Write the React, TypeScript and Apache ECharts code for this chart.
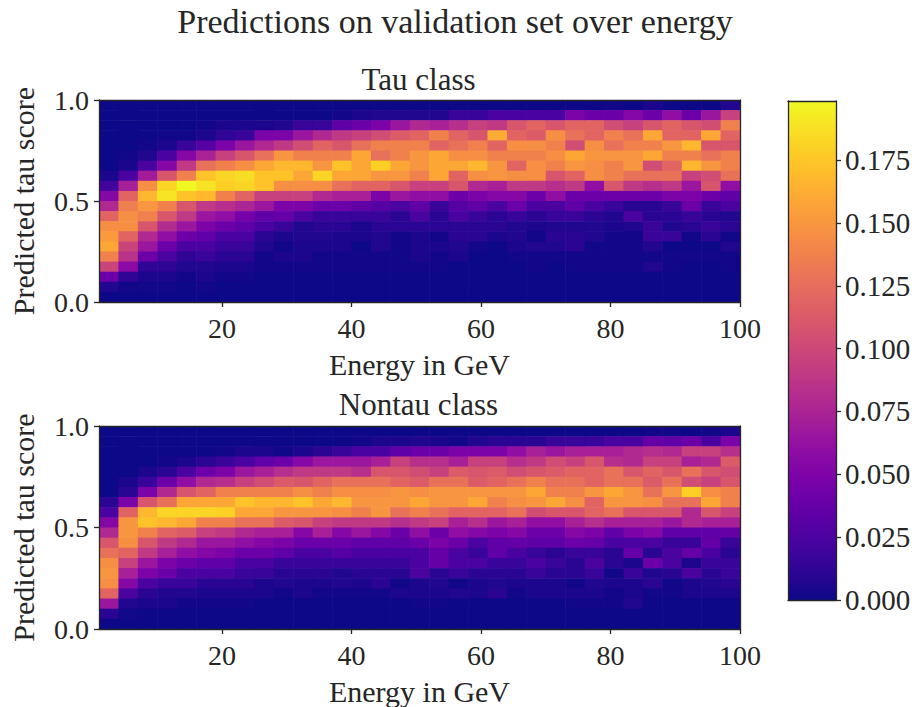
import React, { useEffect, useRef } from "react";
import * as echarts from "echarts";

// Energy bin edges (GeV) and score bin edges (top -> bottom)
const energyEdges = [1, 4, 7, 10, 13, 16, 19, 22, 25, 28, 31, 34, 37, 40, 43, 46, 49, 52, 55, 58, 61, 64, 67, 70, 73, 76, 79, 82, 85, 88, 91, 94, 97, 100];
const scoreEdges = [1.0, 0.95, 0.9, 0.85, 0.8, 0.75, 0.7, 0.65, 0.6, 0.55, 0.5, 0.45, 0.4, 0.35, 0.3, 0.25, 0.2, 0.15, 0.1, 0.05, 0.0];

const energyTicks = [20, 40, 60, 80, 100];
const scoreTicks = [0, 0.5, 1.0];
const colorbarTicks = [0, 0.025, 0.05, 0.075, 0.1, 0.125, 0.15, 0.175];
const colorbarMax = 0.1985;

// Fraction per energy bin (x 1e-3); each inner list = one energy bin, score 1.0 -> 0.0
const tauHist = [
  [0, 0, 0, 0, 0, 0, 0, 5, 20, 54, 79, 119, 145, 152, 159, 137, 97, 40, 7, 0],
  [0, 0, 0, 0, 0, 2, 5, 24, 73, 119, 135, 145, 145, 119, 97, 85, 57, 12, 2, 0],
  [0, 0, 0, 0, 2, 7, 24, 70, 145, 167, 150, 137, 109, 79, 66, 40, 12, 5, 2, 0],
  [0, 0, 0, 2, 5, 24, 54, 109, 182, 190, 137, 109, 80, 60, 40, 24, 12, 5, 2, 0],
  [0, 0, 0, 2, 16, 54, 89, 137, 198, 173, 109, 89, 66, 40, 24, 12, 7, 2, 0, 0],
  [0, 0, 2, 5, 30, 75, 127, 173, 189, 167, 89, 66, 48, 34, 24, 16, 7, 5, 2, 0],
  [0, 0, 5, 12, 48, 95, 137, 182, 179, 137, 83, 60, 40, 24, 16, 10, 5, 2, 0, 0],
  [0, 0, 5, 16, 66, 109, 145, 186, 182, 119, 76, 45, 34, 24, 16, 10, 5, 2, 0, 0],
  [0, 0, 5, 48, 79, 127, 159, 173, 173, 95, 66, 34, 24, 10, 7, 2, 2, 0, 0, 0],
  [0, 0, 7, 48, 89, 149, 167, 173, 145, 95, 48, 37, 16, 5, 2, 5, 2, 0, 0, 0],
  [0, 0, 16, 66, 103, 137, 167, 159, 145, 95, 48, 24, 7, 7, 5, 5, 2, 0, 0, 0],
  [0, 0, 16, 79, 119, 137, 149, 182, 145, 79, 40, 16, 10, 7, 5, 2, 2, 0, 0, 0],
  [0, 2, 34, 89, 109, 137, 173, 159, 127, 73, 40, 16, 10, 5, 5, 2, 2, 0, 0, 0],
  [0, 5, 40, 95, 127, 159, 159, 159, 119, 73, 34, 16, 5, 5, 0, 2, 2, 0, 0, 0],
  [0, 7, 48, 103, 137, 127, 179, 149, 119, 48, 30, 16, 10, 7, 7, 2, 2, 0, 0, 0],
  [0, 7, 66, 113, 137, 137, 159, 149, 109, 66, 24, 10, 10, 2, 2, 2, 2, 0, 0, 0],
  [0, 7, 79, 119, 137, 149, 149, 137, 95, 60, 34, 24, 10, 5, 5, 5, 2, 0, 0, 0],
  [0, 7, 73, 137, 119, 159, 159, 159, 95, 60, 16, 10, 10, 2, 5, 2, 2, 0, 0, 0],
  [0, 16, 83, 119, 127, 145, 159, 119, 109, 40, 30, 24, 10, 10, 7, 5, 0, 0, 0, 0],
  [0, 16, 95, 109, 137, 145, 167, 145, 79, 48, 34, 16, 10, 10, 2, 0, 0, 0, 0, 0],
  [0, 24, 89, 162, 119, 137, 149, 149, 73, 54, 24, 10, 10, 5, 0, 0, 0, 0, 0, 0],
  [0, 24, 109, 119, 145, 137, 119, 145, 89, 54, 40, 16, 7, 7, 5, 2, 0, 0, 0, 0],
  [0, 24, 119, 113, 145, 137, 145, 145, 89, 40, 24, 10, 5, 2, 7, 2, 2, 0, 0, 0],
  [0, 24, 109, 145, 137, 145, 137, 109, 83, 60, 24, 16, 7, 10, 7, 2, 0, 0, 0, 0],
  [0, 48, 119, 127, 103, 159, 149, 119, 89, 40, 34, 16, 7, 10, 10, 2, 2, 0, 0, 0],
  [0, 40, 119, 119, 145, 149, 145, 145, 60, 40, 24, 10, 7, 7, 2, 2, 2, 0, 0, 0],
  [2, 40, 103, 137, 127, 149, 137, 137, 109, 40, 16, 7, 5, 2, 2, 2, 2, 0, 0, 0],
  [0, 54, 95, 127, 137, 149, 149, 127, 89, 40, 10, 24, 7, 2, 2, 2, 2, 0, 0, 0],
  [5, 40, 109, 159, 137, 159, 103, 127, 83, 40, 10, 10, 16, 16, 7, 2, 7, 0, 0, 0],
  [0, 60, 119, 119, 149, 137, 119, 127, 89, 48, 16, 10, 7, 16, 0, 2, 2, 0, 0, 0],
  [0, 40, 109, 119, 167, 137, 167, 95, 66, 48, 40, 16, 10, 2, 0, 2, 0, 0, 0, 0],
  [0, 66, 103, 159, 109, 127, 149, 103, 109, 40, 16, 10, 16, 10, 0, 2, 0, 0, 0, 0],
  [7, 95, 137, 119, 109, 137, 137, 127, 60, 34, 24, 7, 10, 2, 7, 2, 2, 0, 0, 0],
];

const nontauHist = [
  [0, 0, 0, 0, 0, 0, 0, 10, 24, 54, 79, 109, 127, 145, 149, 145, 119, 66, 10, 0],
  [0, 0, 0, 0, 0, 5, 10, 48, 119, 149, 149, 145, 119, 95, 73, 54, 24, 7, 2, 0],
  [0, 0, 0, 0, 5, 16, 48, 109, 167, 173, 137, 109, 89, 66, 48, 24, 10, 5, 0, 0],
  [0, 0, 0, 2, 10, 40, 79, 127, 182, 167, 119, 89, 73, 48, 40, 16, 7, 5, 0, 0],
  [0, 0, 0, 5, 24, 60, 109, 159, 182, 159, 113, 79, 60, 40, 24, 16, 7, 2, 0, 0],
  [0, 0, 0, 10, 40, 79, 119, 159, 182, 137, 95, 66, 54, 34, 24, 10, 5, 2, 0, 0],
  [0, 0, 2, 16, 48, 83, 137, 159, 179, 137, 89, 66, 48, 34, 24, 10, 5, 2, 0, 0],
  [0, 0, 5, 24, 66, 95, 137, 173, 159, 127, 79, 60, 40, 24, 16, 10, 5, 2, 0, 0],
  [0, 0, 5, 34, 73, 103, 137, 167, 159, 127, 73, 54, 40, 24, 16, 5, 5, 0, 0, 0],
  [0, 0, 2, 40, 83, 113, 137, 167, 149, 113, 73, 48, 34, 16, 10, 7, 2, 0, 0, 0],
  [0, 0, 5, 54, 89, 109, 145, 173, 149, 109, 54, 40, 24, 16, 10, 5, 5, 0, 0, 0],
  [0, 0, 10, 66, 89, 119, 137, 159, 149, 95, 73, 40, 24, 16, 10, 5, 2, 0, 0, 0],
  [0, 0, 16, 66, 89, 127, 145, 167, 145, 89, 54, 40, 30, 16, 7, 7, 2, 0, 0, 0],
  [0, 2, 24, 66, 83, 127, 145, 149, 137, 89, 66, 34, 24, 16, 10, 5, 2, 0, 0, 0],
  [0, 5, 24, 73, 109, 127, 145, 149, 149, 89, 54, 34, 24, 16, 10, 10, 2, 0, 0, 0],
  [0, 5, 34, 95, 109, 119, 149, 149, 127, 83, 40, 34, 24, 16, 10, 2, 5, 0, 0, 0],
  [0, 7, 40, 83, 103, 113, 145, 159, 137, 89, 60, 40, 24, 24, 24, 5, 5, 2, 0, 0],
  [0, 5, 40, 83, 95, 127, 149, 149, 127, 95, 40, 48, 37, 37, 10, 7, 5, 2, 0, 0],
  [0, 2, 48, 73, 113, 127, 149, 149, 119, 73, 60, 40, 24, 24, 16, 2, 7, 0, 0, 0],
  [0, 7, 48, 95, 109, 113, 149, 159, 119, 83, 54, 24, 16, 24, 10, 5, 5, 0, 0, 0],
  [0, 10, 48, 95, 113, 119, 149, 137, 119, 66, 48, 34, 34, 16, 10, 7, 10, 0, 0, 0],
  [0, 10, 60, 83, 103, 127, 149, 145, 127, 73, 54, 37, 24, 16, 10, 5, 2, 0, 0, 0],
  [0, 10, 73, 89, 109, 137, 159, 149, 103, 60, 40, 34, 16, 24, 16, 5, 5, 0, 0, 0],
  [0, 16, 66, 103, 113, 127, 137, 159, 109, 60, 40, 34, 10, 16, 10, 5, 5, 0, 0, 0],
  [0, 16, 73, 95, 119, 127, 137, 145, 109, 73, 54, 40, 16, 10, 10, 2, 5, 2, 0, 0],
  [0, 16, 73, 109, 119, 119, 149, 119, 119, 83, 48, 37, 16, 24, 16, 7, 5, 2, 0, 0],
  [0, 24, 73, 83, 127, 127, 159, 149, 127, 73, 34, 24, 10, 10, 2, 5, 2, 2, 0, 0],
  [0, 24, 79, 79, 109, 127, 149, 149, 109, 73, 48, 24, 37, 5, 16, 5, 5, 7, 0, 0],
  [2, 37, 83, 95, 119, 113, 127, 145, 109, 73, 54, 24, 10, 40, 7, 10, 2, 0, 0, 0],
  [2, 34, 79, 95, 109, 127, 149, 127, 109, 66, 34, 16, 24, 24, 10, 2, 2, 0, 0, 0],
  [0, 40, 95, 73, 127, 103, 179, 127, 79, 79, 34, 16, 37, 5, 24, 5, 5, 0, 0, 0],
  [2, 24, 95, 79, 109, 95, 145, 159, 109, 73, 34, 37, 24, 16, 10, 7, 5, 0, 0, 0],
  [5, 48, 83, 113, 103, 109, 137, 137, 95, 73, 37, 16, 10, 16, 16, 10, 5, 0, 0, 0],
];

const plasma = [
  "#0d0887", "#2a0593", "#41049d", "#5601a4", "#6a00a8", "#7e03a8", "#8f0da4",
  "#a11b9b", "#b12a90", "#bf3984", "#cc4778", "#d7566c", "#e16462", "#ea7457",
  "#f2844b", "#f89540", "#fca636", "#feba2c", "#fcce25", "#f7e225", "#f0f921",
];

const FONT = "'Liberation Serif', 'DejaVu Serif', serif";
const INK = "#262626";

function buildCells(hist: number[][]) {
  const cells: number[][] = [];
  hist.forEach((col, i) => {
    col.forEach((v, r) => {
      cells.push([energyEdges[i], energyEdges[i + 1], scoreEdges[r + 1], scoreEdges[r], v / 1000]);
    });
  });
  return cells;
}

const cellRender = (params: any, api: any) => {
  const p0 = api.coord([api.value(0), api.value(3)]);
  const p1 = api.coord([api.value(1), api.value(2)]);
  return {
    type: "rect",
    shape: { x: p0[0], y: p0[1], width: p1[0] - p0[0] + 0.6, height: p1[1] - p0[1] + 0.6 },
    style: { fill: api.visual("color") },
  };
};

const lineStyle = { color: INK, width: 1.3 };

function frameAxis(gridIndex: number, position: string, min: number, max: number) {
  return {
    gridIndex, position, type: "value", min, max, z: 10,
    axisLine: { show: true, onZero: false, lineStyle },
    axisTick: { show: false }, axisLabel: { show: false }, splitLine: { show: false },
  };
}

function energyAxis(gridIndex: number) {
  return {
    gridIndex, position: "bottom", type: "value", min: 1, max: 100, z: 10,
    name: "Energy in GeV", nameLocation: "middle", nameGap: 47,
    nameTextStyle: { fontFamily: FONT, fontSize: 30, color: INK },
    axisLine: { show: true, onZero: false, lineStyle },
    axisTick: { show: true, length: 5, lineStyle, customValues: energyTicks },
    axisLabel: { show: true, margin: 12, fontFamily: FONT, fontSize: 28, color: INK, customValues: energyTicks },
    splitLine: { show: false },
  };
}

function scoreAxis(gridIndex: number) {
  return {
    gridIndex, position: "left", type: "value", min: 0, max: 1, interval: 0.5, z: 10,
    name: "Predicted tau score", nameLocation: "middle", nameGap: 61, nameRotate: 90,
    nameTextStyle: { fontFamily: FONT, fontSize: 30, color: INK },
    axisLine: { show: true, onZero: false, lineStyle },
    axisTick: { show: true, length: 5, lineStyle, customValues: scoreTicks },
    axisLabel: {
      show: true, margin: 10, fontFamily: FONT, fontSize: 28, color: INK, customValues: scoreTicks,
      formatter: (v: number) => v.toFixed(1),
    },
    splitLine: { show: false },
  };
}

export default function App() {
  const ref = useRef<HTMLDivElement>(null);
  useEffect(() => {
    if (!ref.current) return;
    const chart = echarts.init(ref.current, undefined, { renderer: "svg" });
    const option: any = {
      animation: false,
      backgroundColor: "#ffffff",
      grid: [
        { left: 97, top: 100, width: 643, height: 202 },
        { left: 97, top: 426, width: 643, height: 203 },
        { left: 788, top: 101, width: 48, height: 499 },
      ],
      xAxis: [
        energyAxis(0),
        frameAxis(0, "top", 1, 100),
        energyAxis(1),
        frameAxis(1, "top", 1, 100),
        frameAxis(2, "bottom", 0, 1),
        frameAxis(2, "top", 0, 1),
      ],
      yAxis: [
        scoreAxis(0),
        frameAxis(0, "right", 0, 1),
        scoreAxis(1),
        frameAxis(1, "right", 0, 1),
        frameAxis(2, "left", 0, colorbarMax),
        {
          gridIndex: 2, position: "right", type: "value", min: 0, max: colorbarMax, z: 10,
          axisLine: { show: true, onZero: false, lineStyle },
          axisTick: { show: true, length: 5, lineStyle, customValues: colorbarTicks },
          axisLabel: {
            show: true, margin: 9, fontFamily: FONT, fontSize: 29, color: INK, customValues: colorbarTicks,
            formatter: (v: number) => v.toFixed(3),
          },
          splitLine: { show: false },
        },
      ],
      visualMap: {
        type: "continuous", show: false, min: 0, max: colorbarMax, dimension: 4,
        seriesIndex: [0, 1], inRange: { color: plasma },
      },
      graphic: [
        {
          type: "text", x: 455, y: 4,
          style: { text: "Predictions on validation set over energy", fontFamily: FONT, fontSize: 34, fill: INK, align: "center", verticalAlign: "top" },
        },
        {
          type: "text", x: 418.5, y: 79,
          style: { text: "Tau class", fontFamily: FONT, fontSize: 31, fill: INK, align: "center", verticalAlign: "middle" },
        },
        {
          type: "text", x: 418.5, y: 404,
          style: { text: "Nontau class", fontFamily: FONT, fontSize: 31, fill: INK, align: "center", verticalAlign: "middle" },
        },
      ],
      series: [
        {
          type: "custom", xAxisIndex: 0, yAxisIndex: 0, clip: true, z: 2,
          encode: { x: [0, 1], y: [2, 3] }, renderItem: cellRender, data: buildCells(tauHist),
        },
        {
          type: "custom", xAxisIndex: 2, yAxisIndex: 2, clip: true, z: 2,
          encode: { x: [0, 1], y: [2, 3] }, renderItem: cellRender, data: buildCells(nontauHist),
        },
        {
          type: "custom", xAxisIndex: 4, yAxisIndex: 4, clip: true, z: 2,
          encode: { x: [0, 1], y: [2, 3] },
          renderItem: (params: any, api: any) => {
            const p0 = api.coord([api.value(0), api.value(3)]);
            const p1 = api.coord([api.value(1), api.value(2)]);
            const stops = plasma.map((c, i) => ({ offset: i / (plasma.length - 1), color: c }));
            return {
              type: "rect",
              shape: { x: p0[0], y: p0[1], width: p1[0] - p0[0], height: p1[1] - p0[1] },
              style: { fill: new echarts.graphic.LinearGradient(0, 1, 0, 0, stops) },
            };
          },
          data: [[0, 1, 0, colorbarMax]],
        },
      ],
    };
    chart.setOption(option);
    return () => chart.dispose();
  }, []);
  return <div ref={ref} style={{ position: "fixed", left: 0, top: 0, width: 917, height: 707 }} />;
}
